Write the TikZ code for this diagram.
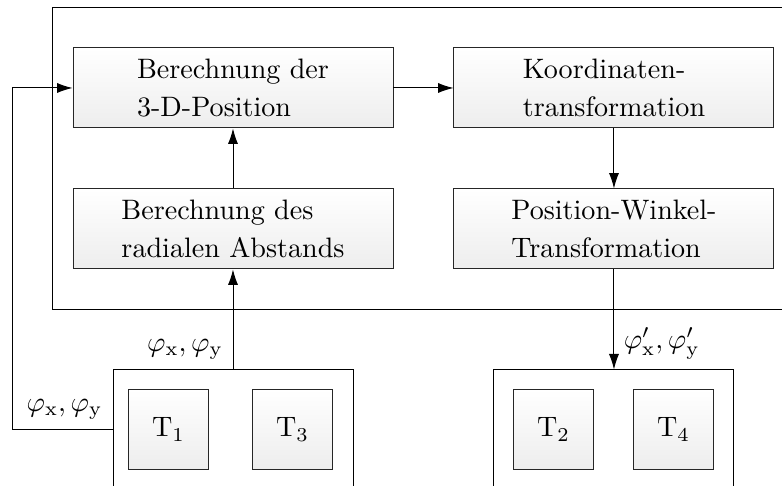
\documentclass[tikz,border=0pt]{standalone}
\usepackage{amsmath,amssymb}
\usepackage{tikz}
\usetikzlibrary{positioning,arrows.meta,calc}

\begin{document}
\begin{tikzpicture}[
  line width=0.35pt,
  block/.style={draw=black!85, top color=white, bottom color=black!7,
    minimum width=4cm, minimum height=1cm, align=left,
    font=\fontsize{10}{13.7}\selectfont},
  sensor/.style={draw=black!85, top color=white, bottom color=black!7, minimum size=1cm},
  group/.style={draw, minimum width=3cm, minimum height=2.5cm},
  arr/.style={-{Latex[length=5.5pt,width=3.6pt]}}
]
  \clip (-2.9125,1.1) rectangle (6.8625,-4.975);

  % --- Verarbeitungsblöcke ---
  \node[block] (pos) at (0,0) {Berechnung der\\3-D-Position};
  \node[block, right=0.75cm of pos] (koord) {Koordinaten-\\transformation};
  \node[block, below=0.75cm of pos] (abst) {Berechnung des\\radialen Abstands};
  \node[block, below=0.75cm of koord] (pwt) {Position-Winkel-\\Transformation};
  \draw ($(pos.north west)+(-0.25,0.5)$) rectangle ($(pwt.south east)+(0.25,-0.5)$);

  % --- Sensorgruppen ---
  \node[group, below=1.25cm of abst] (grpL) {};
  \node[group, below=1.25cm of pwt] (grpR) {};
  \node[sensor] (t1) at ($(grpL.north west)+(0.7,-0.75)$) {$\mathrm{T}_1$};
  \node[sensor] (t3) at ($(grpL.north west)+(2.25,-0.75)$) {$\mathrm{T}_3$};
  \node[sensor] (t2) at ($(grpR.north west)+(0.75,-0.75)$) {$\mathrm{T}_2$};
  \node[sensor] (t4) at ($(grpR.north west)+(2.25,-0.75)$) {$\mathrm{T}_4$};

  % --- Verbindungen ---
  \coordinate (knick) at ($(pos.west)+(-0.75,0)$);
  \draw[arr] (pos.east) -- (koord.west);
  \draw[arr] (koord.south) -- (pwt.north);
  \draw[arr] (abst.north) -- (pos.south);
  \draw[arr] (abst.south |- grpL.north) node[above left]{$\varphi_\mathrm{x},\varphi_\mathrm{y}$} -- (abst.south);
  \draw[arr] (grpL.west |- t1) node[above left]{$\varphi_\mathrm{x},\varphi_\mathrm{y}$} -| (knick) -- (pos.west);
  \draw[arr] (pwt.south) -- (pwt.south |- grpR.north) node[above right]{$\varphi'_\mathrm{x},\varphi'_\mathrm{y}$};
\end{tikzpicture}
\end{document}
